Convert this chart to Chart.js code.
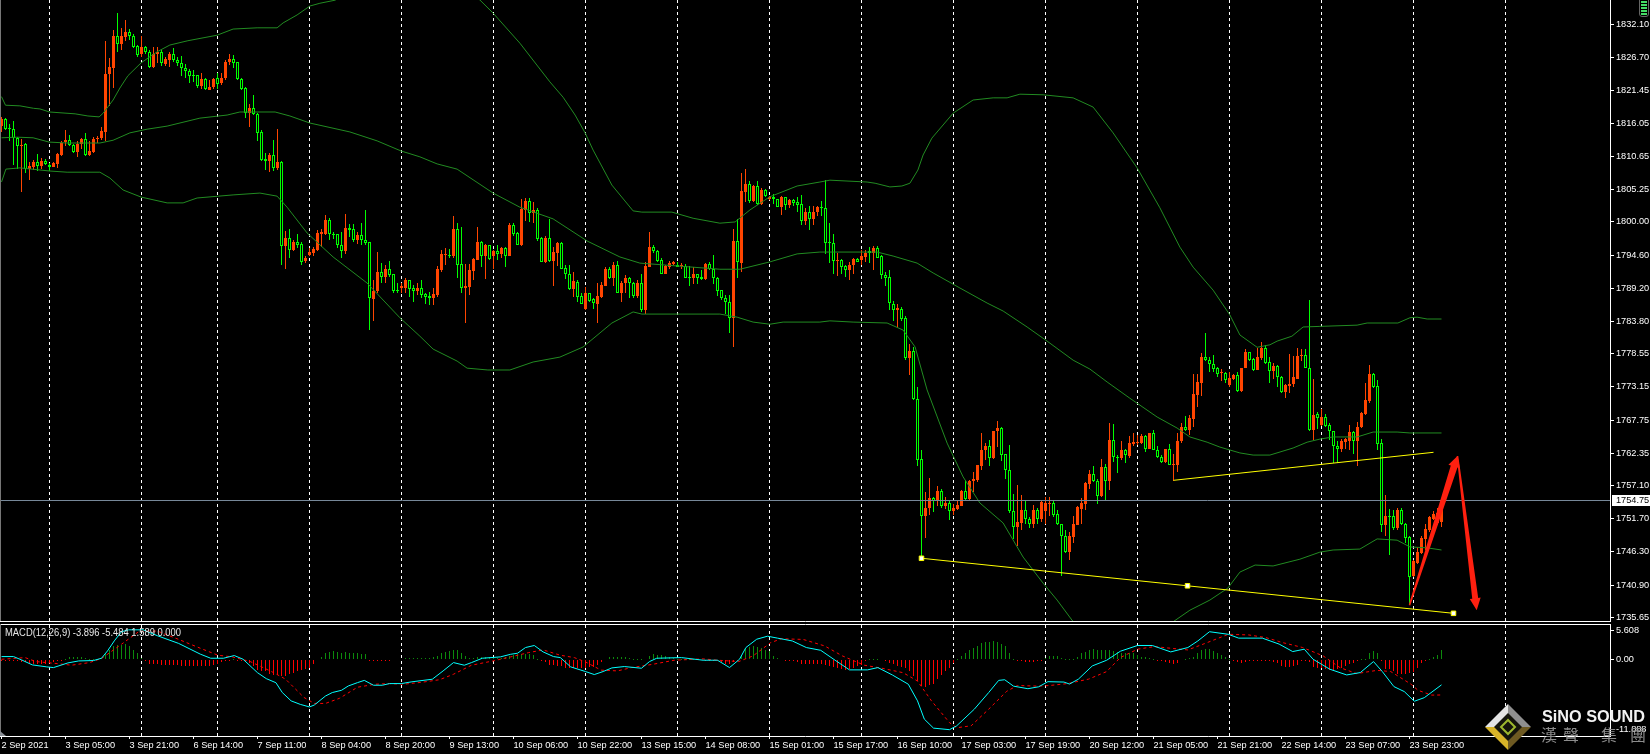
<!DOCTYPE html>
<html>
<head>
<meta charset="utf-8">
<title>XAUUSD H1</title>
<style>
  html, body { margin: 0; background: #000; overflow: hidden; }
  canvas { position: absolute; left: 0; }
  #precos { top: 0; }
  #macd { top: 622px; }
</style>
<script src="https://cdn.jsdelivr.net/npm/chart.js@4/dist/chart.umd.min.js"></script>
</head>
<body>
<canvas id="precos" width="1650" height="622"></canvas>
<canvas id="macd" width="1650" height="132"></canvas>
<script>
var opens = [
1815.6,1816.7,1815.3,1815.2,1813.7,1812.3,1812.7,1808.6,1809.0,1809.7,
1809.1,1809.9,1809.3,1809.0,1809.5,1810.9,1813.0,1813.3,1812.5,1811.4,
1812.7,1813.5,1810.9,1811.4,1813.5,1813.6,1814.7,1824.1,1825.1,1830.3,
1829.0,1830.1,1831.0,1830.3,1828.6,1827.3,1828.4,1827.7,1825.2,1827.3,
1827.6,1825.7,1826.4,1827.3,1826.4,1825.8,1825.1,1824.6,1823.9,1823.9,
1822.1,1823.2,1821.5,1821.9,1823.5,1822.6,1823.4,1826.0,1826.5,1826.0,
1823.2,1821.8,1817.8,1818.6,1817.6,1814.6,1810.2,1809.9,1810.9,1808.8,
1809.8,1796.1,1797.4,1795.4,1796.7,1796.4,1793.6,1794.6,1794.9,1795.4,
1798.0,1798.1,1800.3,1798.1,1798.0,1796.3,1795.3,1799.0,1798.9,1797.0,
1797.9,1797.0,1796.7,1787.5,1788.8,1791.9,1791.0,1792.3,1791.5,1789.0,
1789.2,1789.3,1790.5,1789.2,1788.8,1789.2,1788.3,1788.0,1787.6,1788.1,
1792.2,1794.6,1794.7,1794.5,1798.9,1793.1,1789.3,1789.4,1792.0,1793.8,
1796.7,1794.5,1796.2,1794.4,1795.3,1794.8,1795.8,1794.5,1799.5,1798.2,
1796.2,1802.0,1803.4,1801.5,1802.0,1797.4,1793.5,1797.4,1793.7,1795.0,
1796.6,1792.5,1791.6,1789.1,1790.3,1787.9,1785.8,1788.4,1787.5,1786.7,
1787.8,1789.6,1792.3,1790.9,1793.0,1788.5,1790.0,1790.9,1790.1,1787.9,
1790.1,1785.7,1792.7,1795.9,1795.3,1793.8,1791.6,1792.7,1793.2,1793.0,
1792.8,1792.9,1791.0,1790.9,1791.5,1791.0,1790.7,1793.1,1792.4,1790.8,
1788.9,1787.7,1786.9,1784.3,1796.9,1793.3,1804.9,1806.1,1803.4,1805.9,
1802.9,1805.2,1803.8,1804.1,1803.7,1802.4,1804.0,1802.8,1803.5,1803.2,
1802.9,1800.2,1801.6,1800.5,1801.6,1802.4,1802.2,1796.7,1796.5,1793.7,
1793.8,1792.8,1792.2,1793.0,1794.0,1793.8,1794.3,1795.2,1795.0,1795.8,
1794.5,1791.3,1791.0,1786.7,1785.7,1785.9,1784.3,1777.8,1779.0,1771.1,
1761.4,1752.2,1753.5,1755.0,1754.5,1756.2,1753.8,1754.2,1753.0,1753.3,
1753.8,1756.2,1754.9,1757.9,1758.0,1760.3,1762.8,1763.5,1761.6,1765.9,
1766.4,1762.2,1759.7,1753.0,1750.3,1751.0,1753.1,1751.7,1750.8,1753.1,
1751.6,1752.9,1754.2,1754.2,1752.4,1750.8,1748.8,1746.3,1748.7,1750.7,
1753.3,1754.1,1757.3,1758.9,1757.9,1755.4,1760.1,1757.8,1764.5,1761.8,
1761.6,1762.9,1761.9,1763.9,1764.0,1764.0,1765.2,1763.0,1765.6,1762.9,
1761.8,1760.9,1763.0,1760.5,1760.4,1764.3,1766.6,1766.1,1767.9,1771.8,
1773.8,1778.0,1777.6,1776.8,1776.2,1775.4,1775.4,1773.5,1774.4,1775.1,
1772.5,1776.2,1778.8,1777.7,1775.9,1777.9,1779.5,1777.2,1775.7,1776.5,
1774.8,1772.3,1773.3,1773.6,1774.5,1778.1,1778.3,1776.3,1766.1,1768.7,
1767.0,1768.2,1766.9,1765.9,1763.6,1763.1,1764.2,1764.4,1765.8,1764.4,
1766.6,1768.7,1770.9,1775.3,1773.3,1764.0,1750.6,1752.2,1752.1,1750.1,
1753.1,1750.9,1748.7,1742.4,1744.5,1746.1,1748.4,1749.9,1751.7,1751.0,1751.2
];
var highs = [
1817.1,1817.0,1816.0,1816.4,1813.9,1813.5,1812.8,1809.7,1810.1,1811.1,
1810.4,1810.3,1809.6,1809.7,1811.2,1813.2,1815.0,1814.2,1812.7,1813.1,
1813.7,1814.4,1813.1,1813.8,1814.0,1815.5,1829.5,1826.7,1831.2,1834.0,
1831.5,1832.9,1831.4,1830.6,1828.8,1830.3,1828.7,1828.0,1828.4,1828.4,
1828.0,1826.9,1827.7,1828.3,1826.9,1827.0,1825.7,1824.9,1824.7,1823.9,
1824.3,1823.4,1823.1,1823.4,1824.3,1824.2,1826.4,1827.3,1827.2,1826.1,
1823.4,1821.9,1819.2,1820.7,1817.8,1815.0,1811.2,1811.3,1813.3,1815.1,
1809.9,1798.5,1798.8,1797.1,1798.1,1796.8,1794.5,1795.7,1795.9,1798.7,
1798.9,1801.1,1800.6,1798.4,1798.1,1798.4,1801.3,1799.7,1799.7,1798.4,
1799.8,1802.0,1796.8,1790.5,1795.1,1793.3,1793.0,1793.7,1791.6,1790.0,
1790.0,1790.9,1790.6,1789.7,1790.0,1790.6,1788.5,1788.6,1789.3,1792.8,
1795.4,1795.7,1795.6,1801.0,1799.9,1799.1,1793.2,1793.2,1794.1,1799.1,
1796.9,1796.4,1796.3,1795.4,1796.2,1796.0,1796.0,1799.8,1799.9,1798.4,
1803.8,1803.9,1803.9,1803.3,1802.2,1797.5,1797.7,1800.4,1796.0,1796.7,
1796.7,1793.0,1793.0,1791.9,1790.5,1788.5,1789.4,1788.5,1787.7,1790.0,
1790.3,1792.6,1792.6,1793.4,1793.6,1790.4,1791.4,1791.1,1790.3,1790.6,
1791.6,1793.4,1798.4,1796.2,1795.5,1794.1,1793.0,1793.7,1793.6,1793.5,
1793.3,1793.1,1792.8,1792.7,1791.6,1792.1,1793.3,1793.4,1794.7,1791.0,
1789.0,1788.1,1788.1,1798.9,1800.4,1808.0,1808.6,1806.6,1806.0,1806.7,
1805.5,1805.3,1804.3,1804.5,1803.8,1804.2,1804.1,1803.8,1803.8,1804.1,
1804.4,1802.2,1802.6,1802.6,1802.6,1803.4,1806.8,1799.9,1798.0,1794.9,
1793.9,1793.0,1793.5,1794.1,1794.2,1795.4,1795.5,1795.9,1796.1,1796.1,
1794.6,1791.9,1792.2,1787.1,1786.7,1786.1,1784.7,1780.2,1779.7,1773.1,
1762.9,1756.1,1758.3,1755.3,1757.0,1756.6,1755.3,1754.5,1754.1,1754.6,
1756.4,1758.0,1758.0,1759.3,1760.4,1765.6,1764.0,1764.5,1766.0,1767.6,
1766.6,1762.3,1763.7,1755.7,1757.2,1755.5,1754.6,1752.0,1753.9,1753.4,
1754.5,1755.3,1755.2,1754.8,1753.1,1750.9,1749.9,1749.6,1752.1,1753.8,
1755.0,1757.6,1759.6,1760.3,1758.1,1761.4,1760.6,1767.2,1767.1,1762.1,
1764.3,1763.1,1765.1,1765.6,1765.3,1765.4,1765.3,1765.7,1766.2,1763.5,
1762.1,1763.1,1763.9,1762.3,1765.6,1767.2,1768.4,1768.6,1775.2,1775.2,
1778.6,1781.9,1778.0,1778.3,1776.4,1776.0,1775.5,1775.5,1775.2,1775.6,
1776.3,1779.3,1778.9,1777.8,1779.4,1780.4,1780.0,1778.0,1777.0,1776.7,
1774.9,1773.7,1778.5,1778.1,1779.4,1779.3,1779.3,1787.3,1774.5,1769.0,
1769.5,1768.7,1767.2,1766.0,1764.4,1764.6,1764.9,1767.0,1766.0,1767.4,
1769.1,1773.8,1776.7,1775.4,1774.3,1764.6,1755.6,1753.2,1753.1,1753.4,
1753.4,1751.0,1748.9,1745.0,1747.1,1748.8,1750.8,1752.1,1753.0,1753.4,1753.4
];
var lows = [
1814.7,1815.0,1813.1,1809.3,1808.7,1804.8,1807.9,1806.8,1808.5,1808.3,
1808.7,1809.3,1808.3,1808.9,1808.8,1810.7,1812.4,1812.3,1811.2,1810.5,
1811.8,1810.8,1810.8,1811.2,1812.8,1813.3,1813.1,1818.8,1821.8,1827.6,
1828.0,1829.5,1829.6,1828.3,1826.8,1826.9,1827.4,1825.1,1825.0,1825.8,
1825.4,1825.4,1825.3,1826.0,1825.4,1823.8,1823.5,1822.6,1822.8,1821.8,
1821.6,1821.4,1821.4,1821.7,1821.7,1822.3,1823.1,1825.5,1825.0,1823.1,
1821.4,1816.9,1815.5,1817.4,1813.1,1810.0,1808.5,1808.2,1808.3,1808.5,
1793.0,1792.3,1794.1,1795.2,1795.7,1793.0,1793.3,1794.5,1794.5,1795.3,
1795.9,1797.9,1797.0,1797.2,1795.7,1794.1,1794.8,1797.5,1796.8,1796.4,
1796.2,1796.2,1782.4,1783.8,1788.4,1790.0,1790.0,1791.1,1788.4,1788.5,
1788.4,1788.5,1787.8,1786.9,1788.1,1787.6,1786.6,1786.5,1786.5,1787.8,
1791.9,1793.0,1794.2,1794.2,1790.8,1788.5,1783.6,1788.1,1790.6,1793.8,
1792.7,1790.7,1793.8,1792.3,1793.8,1794.1,1792.6,1794.5,1797.7,1796.2,
1796.1,1800.2,1800.0,1799.9,1796.9,1793.4,1793.3,1793.5,1789.5,1792.8,
1792.3,1790.7,1788.9,1787.8,1787.0,1786.6,1785.7,1786.9,1785.8,1783.6,
1787.7,1789.5,1790.7,1789.5,1788.4,1786.9,1788.4,1787.6,1787.6,1787.7,
1785.4,1785.0,1792.6,1795.0,1793.5,1791.5,1791.5,1792.4,1793.0,1792.6,
1792.3,1790.8,1789.6,1789.9,1789.9,1790.6,1790.6,1792.2,1789.9,1788.0,
1787.3,1785.0,1782.0,1779.7,1790.8,1791.9,1803.3,1803.1,1803.3,1802.8,
1802.8,1804.1,1803.5,1802.9,1802.4,1801.1,1802.0,1802.3,1802.6,1801.7,
1799.5,1799.5,1798.7,1799.5,1801.0,1801.0,1794.8,1793.3,1791.5,1791.2,
1791.5,1791.1,1790.5,1791.6,1793.4,1793.0,1793.5,1793.3,1792.2,1794.1,
1790.7,1789.5,1785.7,1783.9,1782.7,1783.9,1777.6,1775.1,1771.0,1760.2,
1745.2,1748.6,1752.3,1752.8,1753.7,1753.4,1753.2,1751.4,1752.3,1753.1,
1753.7,1754.7,1754.5,1756.1,1757.7,1759.6,1761.2,1760.2,1761.4,1763.4,
1761.1,1758.2,1752.6,1748.4,1747.2,1749.9,1750.8,1750.1,1750.1,1750.9,
1751.2,1750.9,1752.1,1752.0,1750.7,1742.3,1746.1,1745.0,1747.8,1750.7,
1750.8,1753.1,1756.5,1757.7,1754.1,1755.3,1754.5,1756.4,1760.9,1759.2,
1761.2,1760.7,1761.5,1763.6,1763.7,1763.9,1762.6,1763.0,1762.9,1761.5,
1760.8,1760.8,1760.4,1757.9,1759.3,1764.0,1766.0,1765.3,1766.7,1769.8,
1771.7,1777.4,1775.5,1775.6,1774.7,1774.1,1773.8,1773.2,1774.3,1772.3,
1772.3,1776.2,1777.3,1775.8,1775.9,1777.5,1776.9,1773.8,1774.5,1773.2,
1772.1,1771.4,1772.1,1773.2,1774.4,1777.4,1776.2,1766.0,1764.5,1766.3,
1766.8,1766.7,1764.5,1760.8,1760.8,1762.6,1763.1,1762.9,1762.2,1760.3,
1766.4,1768.6,1770.6,1773.0,1762.8,1749.6,1748.8,1745.8,1749.9,1749.9,
1750.7,1747.7,1737.6,1742.2,1744.4,1746.0,1746.6,1749.6,1751.4,1750.7,1750.3
];
var closes = [
1816.7,1815.1,1815.2,1813.6,1812.3,1812.5,1808.6,1809.1,1809.8,1809.1,
1809.9,1809.5,1809.0,1809.6,1811.1,1812.9,1813.3,1812.5,1811.4,1812.7,
1813.5,1810.9,1811.5,1813.5,1813.7,1814.8,1824.1,1825.2,1830.3,1829.0,
1830.2,1831.0,1830.2,1828.5,1827.1,1828.5,1827.7,1825.3,1827.4,1827.7,
1825.8,1826.5,1827.3,1826.4,1825.8,1825.1,1824.5,1823.8,1823.8,1822.1,
1823.2,1821.6,1821.9,1823.2,1822.5,1823.5,1826.0,1826.5,1825.9,1823.2,
1821.6,1817.8,1818.6,1817.5,1814.5,1810.1,1810.0,1810.9,1808.8,1809.8,
1796.1,1797.4,1795.4,1796.8,1796.2,1793.5,1794.2,1795.1,1795.6,1798.2,
1798.4,1800.3,1798.1,1797.9,1796.2,1795.3,1799.0,1798.7,1797.0,1797.9,
1797.0,1796.6,1787.7,1788.8,1791.9,1791.0,1792.3,1791.4,1788.8,1788.8,
1789.6,1790.5,1789.1,1788.8,1789.2,1788.1,1787.8,1787.7,1788.3,1792.3,
1794.8,1794.8,1794.5,1798.9,1793.0,1789.3,1789.6,1792.2,1794.0,1796.7,
1794.5,1796.2,1794.0,1795.3,1794.8,1795.8,1794.5,1799.5,1798.0,1796.2,
1802.1,1803.4,1801.5,1802.0,1797.2,1793.5,1797.4,1793.7,1795.1,1796.6,
1792.4,1791.6,1789.1,1790.4,1787.8,1786.7,1788.4,1787.1,1786.8,1787.9,
1789.8,1792.3,1790.9,1793.0,1788.5,1790.1,1790.9,1790.0,1788.0,1790.1,
1785.7,1792.8,1795.9,1795.2,1793.7,1791.6,1792.8,1793.3,1793.5,1792.7,
1793.0,1790.9,1790.9,1791.5,1790.9,1790.7,1793.2,1792.4,1790.8,1788.8,
1787.7,1786.9,1784.3,1796.9,1793.4,1805.0,1806.1,1803.4,1805.9,1802.9,
1805.2,1804.3,1804.0,1803.7,1802.5,1804.0,1802.8,1803.6,1803.1,1802.8,
1800.2,1801.6,1800.5,1801.7,1802.4,1802.2,1796.6,1796.5,1793.7,1793.8,
1792.7,1792.2,1793.0,1794.0,1793.5,1794.5,1795.0,1794.9,1795.8,1794.2,
1791.3,1790.9,1786.8,1785.7,1786.0,1784.2,1777.9,1779.0,1771.1,1761.3,
1752.2,1753.5,1755.0,1754.5,1756.2,1753.8,1754.2,1753.0,1753.4,1753.9,
1756.2,1754.9,1757.9,1758.2,1760.4,1762.9,1763.5,1761.6,1766.0,1766.5,
1762.1,1759.7,1753.0,1750.4,1751.2,1753.1,1751.7,1750.9,1753.1,1751.7,
1754.4,1754.2,1754.3,1752.3,1750.9,1748.8,1746.3,1748.9,1750.8,1753.6,
1754.2,1757.5,1759.0,1757.8,1755.4,1760.1,1757.8,1764.5,1761.8,1761.6,
1762.9,1762.1,1764.0,1764.1,1764.1,1765.2,1763.0,1765.6,1762.9,1761.8,
1760.9,1763.0,1760.5,1760.6,1764.4,1766.6,1766.1,1768.1,1772.0,1773.9,
1778.0,1777.5,1776.8,1776.1,1775.2,1775.5,1774.3,1774.6,1775.1,1772.5,
1776.3,1778.8,1777.6,1775.9,1778.0,1779.5,1777.0,1775.7,1776.6,1774.8,
1772.3,1773.4,1773.7,1774.7,1778.2,1778.3,1776.3,1766.1,1768.6,1768.1,
1768.3,1766.8,1765.9,1763.6,1763.1,1764.3,1764.7,1765.8,1764.4,1766.7,
1768.9,1771.0,1775.3,1773.2,1763.9,1750.6,1752.2,1752.0,1750.1,1753.1,
1750.8,1748.6,1742.2,1744.8,1746.2,1748.6,1750.0,1751.9,1752.5,1752.6,1753.1
];

// Bollinger: lidas em alguns candles, a linha liga os pontos
var upperBars = [0,1,4.6,8,9.6,12,18.4,21.6,24.4,25.4,27.9,29.6,31.6,34.9,38.9,42.1,46.6,53.9,57.9,63.9,68.9,70.4,73.9,77.1,79.6,83.4,94.6,107.1,119.6,122.9,129.6,137.1,140.4,143.4,145.9,147.9,152.6,157.9,160.1,167.6,172.9,179.6,183.4,187.1,192.1,198.9,204.6,207.1,216.4,218.4,222.1,225.1,227.1,229.1,230.4,232.6,237.9,242.9,247.9,251.4,254.6,260.4,267.9,272.9,277.9,283.9,289.6,294.6,297.9,302.9,307.1,309.6,313.9,317.1,318.9,322.6,325.4,329.6,338.9,341.4,349.1,352.1,353.9,356.4,360];
var upperVals = [1820.4,1819.0,1818.9,1818.5,1818.4,1817.9,1817.6,1817.25,1817.1,1817.7,1819.85,1821.8,1823.8,1825.9,1827.7,1828.8,1829.5,1830.4,1831.4,1831.6,1831.6,1832.4,1833.7,1835.15,1835.6,1836.1,1841,1841,1836.13,1834,1829.1,1822.8,1820.3,1817.4,1814.5,1811.7,1806,1801.8,1801.6,1801.6,1800.6,1799.8,1800,1801.95,1804.1,1805.85,1806.5,1806.8,1806.5,1806.3,1805.7,1805.85,1806.3,1808.45,1810.9,1813.65,1817.7,1819.85,1820.2,1820.2,1820.8,1820.7,1820.2,1818.7,1814.5,1808.8,1802.3,1795.9,1792.65,1788.9,1784.85,1781.6,1779.6,1780,1780.6,1781.4,1782.9,1783,1783.2,1783.55,1783.55,1784.4,1784.5,1784.2,1784.2];
var middleBars = [0,3.9,7.9,11.9,16.4,24.6,27.9,32.1,36.4,41.4,49.6,56.4,59.6,68.4,72.1,77.1,87.1,93.9,99.9,104.6,108.9,113.9,122.9,129.6,137.9,146.4,154.6,159.6,169.6,179.6,184.6,192.1,198.9,204.6,218.9,222.9,228.9,232.9,239.6,246.4,250.4,256.4,261.4,267.9,272.1,276.4,282.1,288.9,293.9,297.1,301.4,304.6,309.6,312.9,317.1,322.9,326.4,329.6,332.9,338.9,342.9,348.9,352.1,360];
var middleVals = [1813.7,1813.8,1813.7,1813,1812.85,1812.85,1813.3,1814.5,1815.1,1815.6,1816.9,1817.4,1817.9,1817.9,1817.25,1816.1,1814.65,1813.2,1811.55,1810.6,1809.45,1808.6,1804.7,1802.4,1800.5,1796.9,1794.3,1793.3,1792.8,1792.3,1792.3,1793.5,1794.8,1795.1,1795.1,1794.45,1793.3,1791.7,1789.25,1786.8,1785.5,1782.9,1780.6,1777.5,1776.05,1773.95,1771.3,1768.25,1766.45,1765,1764.15,1763.35,1762.4,1762.05,1762.05,1763.2,1764.15,1764.65,1765,1765,1765.8,1765.8,1765.65,1765.65];
var lowerBars = [0,1.1,4.6,11.9,16.4,24.6,27.1,30.4,34.9,41.4,45.4,48.9,57.9,64.6,68.9,71.4,76.4,82.9,91.4,99.6,104.6,107.9,113.9,116.4,121.6,127.1,132.9,139.6,145.4,152.6,157.9,160.1,179.6,183.9,187.9,192.1,195.4,204.6,207.1,212.9,221.4,225.4,228.4,231.4,236.4,240.4,244.6,250.4,255.4,260.4,263.9,267.6,274.6,287.1,293.1,297.1,302.1,306.6,309.6,313.4,317.9,324.6,329.6,332.9,339.6,343.9,348.9,352.1,356.4,360];
var lowerVals = [1806.5,1808.6,1808.8,1808.3,1808.1,1808.1,1807.15,1805.2,1804.05,1803.1,1803.1,1803.9,1804.4,1804.7,1804.2,1802.4,1798.2,1794.3,1790.05,1784.4,1781.4,1779.3,1777.35,1776.2,1775.9,1775.9,1777.2,1778,1779.65,1783.55,1785.35,1785,1785,1784.5,1783.7,1783.35,1783.7,1783.7,1783.9,1783.7,1783.55,1782.4,1779.65,1772.65,1764,1758.5,1754.25,1751,1745.45,1741.2,1738.45,1735.2,1730.3,1731.95,1735,1736.8,1738.45,1740.4,1743,1744.15,1744,1745.1,1746.25,1746.6,1746.75,1748.4,1748.2,1747.1,1746.95,1746.6];

var macdHist = [
-0.1,-0.1,-0.1,-0.1,-0.2,-0.3,-0.4,-0.5,-0.6,-0.6,
-0.6,-0.6,-0.5,-0.4,-0.2,-0.1,0.2,0.4,0.4,0.4,
0.4,0.3,0.2,0.2,0.2,0.3,0.9,1.6,2.2,2.4,
2.3,2.5,2.2,1.6,1.0,0.3,-0.1,-0.6,-0.7,-0.7,
-0.8,-0.8,-0.8,-0.8,-0.8,-0.9,-0.9,-0.9,-0.9,-0.9,
-0.9,-0.9,-0.9,-0.8,-0.7,-0.4,-0.2,-0.1,0.1,-0.1,
-0.2,-0.3,-0.5,-1,-1.5,-1.7,-1.8,-2.2,-2.3,-2.4,
-2.5,-2.5,-2.2,-2,-1.8,-1.6,-1.4,-1.2,-0.6,0,
0.5,1,1.2,1.35,1.25,1.15,1.2,1.15,1.1,1,
0.95,0.9,-0.1,-0.1,-0.1,-0.1,-0.1,-0.1,0,0,
0,0.25,0.25,0.25,0.25,0.25,0.3,0.3,0.4,0.6,
1,1.25,1.4,1.6,1.5,1,0.6,0.35,0.3,0.4,
0.5,0.5,0.4,0.4,0.35,0.3,0.4,0.6,0.8,0.85,
0.9,0.95,0.9,0.8,0.1,-0.15,-0.3,-0.8,-0.85,-0.9,
-1,-1.2,-1.2,-1.3,-1.3,-1.3,-1.3,-1.1,-1.1,-0.8,
-0.4,0,0.5,0.5,0.45,0.4,0.4,0.35,0.05,0.05,
0.05,0,0.6,0.9,0.8,0.8,0.6,0.45,0.25,0.1,
0.05,0.05,0.05,0.05,0,0,-0.05,-0.05,-0.1,-0.15,
-0.3,-0.6,-0.7,-0.4,-0.25,0.6,1.7,2,2.2,2,
1.9,1.6,1.4,0.6,0.25,0,-0.05,-0.15,-0.25,-0.35,
-0.6,-0.7,-0.7,-0.7,-0.6,-0.7,-0.8,-0.95,-1.1,-1.3,
-1.45,-1.6,-1.45,-1.2,-1,-0.8,-0.1,0.05,0.05,0.05,
0,-0.2,-0.45,-0.65,-0.9,-1.05,-1.3,-1.8,-2.5,-3.3,
-4,-4.2,-3.95,-3.7,-3,-2.3,-1.8,-1.2,-0.45,0.1,
0.6,1.15,1.5,1.9,2.2,2.7,2.85,2.85,2.9,2.85,
2.55,2.2,1.15,0.1,-0.1,-0.25,-0.4,-0.4,-0.4,-0.25,
-0.05,0.35,0.55,0.55,0.55,0.35,0.05,0.05,0.15,0.45,
1,1.25,1.5,1.65,1.6,1.6,1.6,1.55,1.4,1.3,
1.15,1,1,1,0.7,0.5,0.45,0.35,0.1,-0.05,
-0.15,-0.3,-0.55,-0.7,-0.45,0,0.1,0.25,0.5,1,
1.55,1.65,1.65,1.4,1.15,0.8,0.45,0.1,-0.25,-0.4,
-0.45,-0.4,-0.25,-0.25,-0.15,-0.15,-0.25,-0.25,-0.4,-0.55,
-0.95,-1.05,-1.05,-1,-0.85,-0.05,-0.05,-0.4,-1.1,-1.2,
-1.2,-1.45,-1.6,-1.6,-1.45,-1.2,-0.95,-0.7,-0.45,-0.2,
0.05,0.15,1.15,1.35,1,-0.05,-1.35,-1.45,-1.7,-2.15,
-2.15,-2.15,-2,-1.85,-1.2,-0.55,-0.25,0.1,0.45,0.8,1.55
];
var macdMainBars = [0,3,5,7.7,11.3,13,16.6,19.3,23,25,26.5,28.2,30,31.8,35.4,39,44.3,49.7,52.3,55.5,58.2,60.4,64,66.2,68.6,70.2,72.4,74.7,77,78.2,81,82.7,85,86.7,89,90.7,93,95.2,97,100,102.4,107.7,110.4,113,115.7,117.5,120.2,124.7,127.3,129,131,133.2,135.4,138,139.7,142.3,146,148.2,150.4,152.6,155.7,160,162,163.8,170,175.4,179,182,184.5,186.1,188.8,191.5,194,197.7,201.2,204.8,208.4,212,216.5,219.1,222.7,226.7,229,230.7,233,237,238.8,243.2,246.8,249.3,250.8,253,256.6,259.3,261.6,265.6,267,269.2,272.7,276.3,279.7,284,287.7,292.3,296.6,299.1,302,306.7,309.3,315.2,319.4,322.8,325.7,327.9,332.1,336.3,339.7,343,345.2,348.1,350.7,353.2,355.7,360];
var macdMainVals = [0.52,0.52,0,-0.78,-1.09,-1.2,-0.47,-0.16,-0.1,0.26,1.4,2.97,4.4,4.7,4.7,3.77,2.57,0.9,0.26,0.26,0.68,0.1,-2,-2.93,-3.56,-5.1,-6.4,-6.95,-7.35,-7.05,-5.64,-5.1,-4.75,-4.07,-3.55,-3.2,-3.96,-3.96,-3.7,-3.7,-3.44,-3.02,-1.72,-0.42,-0.83,-0.42,0.26,0.47,0.88,1.04,1.93,2.25,1.25,0.52,0.36,-1.09,-1.82,-2.29,-1.82,-1.25,-1.04,-1.3,-0.26,0.26,0.36,-0.05,-0.05,-1.2,0.1,1.93,3.23,3.7,3.4,2.96,1.93,1.5,-0.05,-1.56,-1.56,-1.2,-2.35,-3.8,-6.4,-9.25,-10.66,-10.9,-10.3,-7.7,-5.1,-3.2,-3.1,-4.1,-4.5,-4.2,-3.4,-3.46,-3.77,-3.02,-0.94,-0.05,1.35,2.25,2.25,1.25,1.93,2.97,4.4,4,3.4,3.4,2.47,1.3,1.67,0.1,-1.46,-2.35,-1.98,-0.26,-1.82,-4.17,-4.95,-6.46,-5.9,-3.9];
var macdSignalBars = [0,5.9,8.6,13,17.5,22,25.1,30,34.5,39,44.3,49.7,54.1,57.7,62.2,67.5,71,75.6,78.2,81,84.5,89,93.4,97,100.5,105,109.5,113,117.5,122.9,127.3,131.8,135.4,139.7,143.2,146,149.9,154,157.5,162.9,168.2,175.4,179,184.3,187.9,192.3,195,200.4,205.8,210.2,215.7,220.1,225.4,229,232.5,237,238.8,242.4,246.8,251.3,254,259.3,262,266.5,271.8,276.3,279.7,284,288.2,292.3,296.6,300.8,306.7,311.8,316,320.3,325.3,330.4,334.6,338.8,343.9,347.3,352.4,354.1,357.5,360];
var macdSignalVals = [0.1,0.36,-0.26,-0.52,-0.83,-0.42,0.26,2.45,4.5,4.5,3.2,1.82,0.73,0.47,-0.26,-1.82,-3,-5.86,-6.8,-6.8,-6,-4.27,-3.8,-3.7,-3.8,-3.5,-3.1,-2.24,-0.83,-0.16,0.47,1.14,1.56,0.73,0.36,-0.32,-1.6,-1.72,-1.2,-0.68,-0.05,0.16,-0.05,-0.26,0.63,2.7,3.3,3.2,2.18,0.63,-0.83,-1.3,-2,-3.3,-6.4,-9.8,-10.6,-10.3,-7.7,-4.9,-4,-4.1,-4,-3.7,-3,-1.82,0.36,1.67,2.08,1.82,1.56,2.55,4,3.9,3.5,2.7,1.93,0.63,-1.2,-2.14,-1.63,-1.82,-3.8,-4.74,-5.5,-5.48];

var priceTicks = [1832.10,1826.70,1821.45,1816.05,1810.65,1805.25,1800.00,1794.60,1789.20,1783.80,1778.55,1773.15,1767.75,1762.35,1757.10,1751.70,1746.30,1740.90,1735.65];
var bidPrice = 1754.75;
var macdTickAt = [4.55, 0, -10.9];
var macdTickText = ['5.608', '0.00', '-11.888'];
var timeLabels = ['2 Sep 2021','3 Sep 05:00','3 Sep 21:00','6 Sep 14:00','7 Sep 11:00','8 Sep 04:00','8 Sep 20:00','9 Sep 13:00','10 Sep 06:00','10 Sep 22:00','13 Sep 15:00','14 Sep 08:00','15 Sep 01:00','15 Sep 17:00','16 Sep 10:00','17 Sep 03:00','17 Sep 19:00','20 Sep 12:00','21 Sep 05:00','21 Sep 21:00','22 Sep 14:00','23 Sep 07:00','23 Sep 23:00'];
var labelBars = [0,16,32,48,64,80,96,112,128,144,160,176,192,208,224,240,256,272,288,304,320,336,352];
var dayBars = [12,35,54,77,100,123,146,169,192,215,238,261,284,307,330,353,376];

// linhas de tendencia e setas desenhadas no grafico: [candle, preco]
var supportLine = [[230,1745.25],[296.5,1740.77],[363,1736.29]];
var resistLine = [[293,1757.94],[358,1762.5]];
var arrowUp = [[352,1737.6],[364,1761.9]];
var arrowDown = [[364,1761.9],[368.8,1736.8]];

var FONTE = '"Liberation Sans"';
var TAM_FONTE = 9.2;
var LARANJA = '#FF4500', VERDE = '#00FF00', BANDA = '#228B22', AMARELO = '#FFFF00';
var xMin = -0.375, xMax = 402.125;

Chart.defaults.font.family = FONTE;
Chart.defaults.font.size = TAM_FONTE;
Chart.defaults.color = '#fff';
Chart.defaults.animation = false;

function pares(xs, ys) {
  return xs.map(function (x, i) { return { x: x, y: ys[i] }; });
}

function linha(dados, cor, extra) {
  return Object.assign({
    type: 'line', data: dados, borderColor: cor, borderWidth: 1,
    pointRadius: 0, tension: 0, order: 3, fill: false
  }, extra || {});
}

// sem isto o eixo reserva meia altura de texto em cima e embaixo
function semPadding(s) {
  s.paddingTop = 0; s.paddingBottom = 0; s.paddingLeft = 0; s.paddingRight = 0;
}

// candles e histograma em pixel inteiro, como no terminal
var pixelInteiro = {
  id: 'pixelInteiro',
  afterDatasetsUpdate: function (chart) {
    chart.getSortedVisibleDatasetMetas().forEach(function (meta) {
      if (meta.type !== 'bar') return;
      meta.data.forEach(function (el) {
        var tinha = el.y !== el.base;
        var a = Math.round(el.y), b = Math.round(el.base);
        if (a === b && tinha) b = a + 1;
        el.y = a; el.base = b;
      });
    });
  }
};

function seta(ctx, x, y, pa, pb, cauda, largura, cabecaLen, cabecaLarg) {
  var ax = x.getPixelForValue(pa[0]), ay = y.getPixelForValue(pa[1]);
  var bx = x.getPixelForValue(pb[0]), by = y.getPixelForValue(pb[1]);
  var d = Math.hypot(bx - ax, by - ay), ux = (bx - ax) / d, uy = (by - ay) / d;
  var sx = bx - ux * cabecaLen, sy = by - uy * cabecaLen, nx = -uy, ny = ux;
  ctx.beginPath();
  ctx.moveTo(ax + nx * cauda / 2, ay + ny * cauda / 2);
  ctx.lineTo(sx + nx * largura / 2, sy + ny * largura / 2);
  ctx.lineTo(sx + nx * cabecaLarg / 2, sy + ny * cabecaLarg / 2);
  ctx.lineTo(bx, by);
  ctx.lineTo(sx - nx * cabecaLarg / 2, sy - ny * cabecaLarg / 2);
  ctx.lineTo(sx - nx * largura / 2, sy - ny * largura / 2);
  ctx.lineTo(ax - nx * cauda / 2, ay - ny * cauda / 2);
  ctx.closePath();
  ctx.fill();
}

var extrasPreco = {
  id: 'extrasPreco',
  afterDatasetsDraw: function (chart) {
    var ctx = chart.ctx, y = chart.scales.y, x = chart.scales.x;
    var py = Math.round(y.getPixelForValue(bidPrice)) + 0.5;
    ctx.save();
    ctx.strokeStyle = '#778899';
    ctx.lineWidth = 1;
    ctx.beginPath(); ctx.moveTo(0, py); ctx.lineTo(chart.chartArea.right, py); ctx.stroke();
    ctx.fillStyle = '#FF2010';
    seta(ctx, x, y, arrowUp[0], arrowUp[1], 1.6, 7, 11, 12);
    seta(ctx, x, y, arrowDown[0], arrowDown[1], 1.6, 6, 12, 11);
    ctx.restore();
  },
  afterDraw: function (chart) {
    var ctx = chart.ctx, y = chart.scales.y;
    var py = Math.round(y.getPixelForValue(bidPrice));
    ctx.save();
    ctx.fillStyle = '#fff';
    ctx.fillRect(1612, py - 5, 38, 11);
    ctx.fillStyle = '#000';
    ctx.font = TAM_FONTE + 'px ' + FONTE;
    ctx.textBaseline = 'middle';
    ctx.fillText(bidPrice.toFixed(2), 1616, py + 0.5);
    // borda esquerda e icone do canto
    ctx.fillStyle = '#777';
    ctx.fillRect(0, 0, 1, 621);
    ctx.strokeStyle = '#666';
    ctx.beginPath();
    ctx.moveTo(1639.5, 0); ctx.lineTo(1639.5, 14); ctx.quadraticCurveTo(1639.5, 16.5, 1642, 16.5);
    ctx.lineTo(1646, 16.5); ctx.quadraticCurveTo(1648.5, 16.5, 1648.5, 14); ctx.lineTo(1648.5, 0);
    ctx.stroke();
    ctx.fillStyle = '#44DD66';
    for (var i = 0; i < 5; i++) ctx.fillRect(1641, 1 + i * 3, 6, 2);
    ctx.restore();
  }
};

var extrasMacd = {
  id: 'extrasMacd',
  afterDatasetsDraw: function (chart) {
    var ctx = chart.ctx;
    ctx.save();
    ctx.fillStyle = '#E8E8E8';
    ctx.font = '10px ' + FONTE;
    ctx.textBaseline = 'middle';
    ctx.fillText('MACD(12,26,9) -3.896 -5.484 1.589 0.000', 5, 11, 176);
    ctx.restore();
  },
  afterDraw: function (chart) {
    var ctx = chart.ctx;
    var dy = -622;
    function poli(pts, cor) {
      ctx.fillStyle = cor;
      ctx.beginPath();
      pts.forEach(function (p, i) { if (i) ctx.lineTo(p[0], p[1] + dy); else ctx.moveTo(p[0], p[1] + dy); });
      ctx.closePath();
      ctx.fill();
    }
    ctx.save();
    ctx.fillStyle = '#777';
    ctx.fillRect(0, 2, 1, 112);
    poli([[0, 731], [0, 736], [6, 736]], '#8A8F96');
    // logotipo
    poli([[1508, 727], [1508, 704], [1485, 727]], '#E4E4E4');
    poli([[1508, 727], [1508, 704], [1531, 727]], '#8F8F8F');
    poli([[1508, 727], [1508, 750], [1485, 727]], '#D8B428');
    poli([[1508, 727], [1508, 750], [1531, 727]], '#6E5A22');
    poli([[1494, 727], [1508, 713], [1522, 727], [1508, 741]], '#14140C');
    ctx.strokeStyle = '#9DB82E';
    ctx.lineWidth = 2;
    ctx.beginPath();
    ctx.moveTo(1501, 727 + dy); ctx.lineTo(1508, 720 + dy); ctx.lineTo(1515, 727 + dy); ctx.lineTo(1508, 734 + dy);
    ctx.closePath(); ctx.stroke();
    ctx.textBaseline = 'middle';
    ctx.fillStyle = '#F2F2F2';
    ctx.font = 'bold 17px ' + FONTE;
    ctx.fillText('SiNO SOUND', 1542, 717 + dy, 103);
    ctx.fillStyle = '#8C8C8C';
    ctx.font = '16px "Noto Sans CJK TC"';
    ctx.fillText('漢', 1541, 735 + dy);
    ctx.fillText('聲', 1563, 735 + dy);
    ctx.fillText('集', 1601, 735 + dy);
    ctx.fillText('團', 1630, 735 + dy);
    ctx.restore();
  }
};

function eixoDias(bordaAltura, bordaCor) {
  return {
    type: 'linear', axis: 'x', position: 'top', min: xMin, max: xMax, offset: false,
    afterBuildTicks: function (s) { s.ticks = dayBars.map(function (v) { return { value: v }; }); },
    afterFit: function (s) { s.height = bordaAltura; semPadding(s); },
    ticks: { display: false },
    grid: { color: '#fff', lineWidth: 1, drawTicks: false, offset: false },
    border: { display: !!bordaCor, color: bordaCor || '#fff', dash: [3, 3] }
  };
}

var corpos = highs.map(function (h, i) { return { x: i, y: [opens[i], closes[i]] }; });
var pavios = highs.map(function (h, i) { return { x: i, y: [lows[i], h] }; });
var corPavio = opens.map(function (o, i) { return closes[i] >= o ? LARANJA : VERDE; });
var corFundo = opens.map(function (o, i) { return closes[i] >= o ? LARANJA : '#000'; });
var corBorda = opens.map(function (o, i) { return closes[i] >= o ? LARANJA : VERDE; });

new Chart(document.getElementById('precos'), {
  type: 'bar',
  plugins: [pixelInteiro, extrasPreco],
  data: {
    datasets: [
      { data: pavios, backgroundColor: corPavio, barThickness: 1, grouped: false, inflateAmount: 0, order: 6 },
      { data: corpos, backgroundColor: corFundo, borderColor: corBorda, borderWidth: 1, borderSkipped: false, barThickness: 3, grouped: false, inflateAmount: 0, order: 5 },
      linha(pares(upperBars, upperVals), BANDA),
      linha(pares(middleBars, middleVals), BANDA),
      linha(pares(lowerBars, lowerVals), BANDA),
      linha(supportLine.map(function (p) { return { x: p[0], y: p[1] }; }), AMARELO, {
        order: 2, pointRadius: 3.2, pointStyle: 'rect', pointBackgroundColor: '#fff', pointBorderColor: AMARELO, pointBorderWidth: 1
      }),
      linha(resistLine.map(function (p) { return { x: p[0], y: p[1] }; }), AMARELO, { order: 2 })
    ]
  },
  options: {
    responsive: false,
    devicePixelRatio: 1,
    layout: { padding: 0, autoPadding: false },
    plugins: { legend: { display: false }, tooltip: { enabled: false } },
    scales: {
      x: {
        type: 'linear', min: xMin, max: xMax, offset: false,
        afterFit: function (s) { s.height = 1; semPadding(s); },
        ticks: { display: false },
        grid: { display: false, offset: false },
        border: { color: '#fff' }
      },
      x2: eixoDias(0, null),
      y: {
        type: 'linear', position: 'right', min: 1735.04, max: 1836.13, beginAtZero: false,
        afterBuildTicks: function (s) { s.ticks = priceTicks.map(function (v) { return { value: v }; }); },
        afterFit: function (s) { s.width = 40; semPadding(s); },
        ticks: {
          autoSkip: false, padding: 2, color: '#fff',
          callback: function (v) { return Number(v).toFixed(2); }
        },
        grid: { drawOnChartArea: false, tickLength: 4, color: '#fff' },
        border: { color: '#fff' }
      }
    }
  }
});

new Chart(document.getElementById('macd'), {
  type: 'bar',
  plugins: [pixelInteiro, extrasMacd],
  data: {
    datasets: [
      {
        data: macdHist.map(function (v, i) { return { x: i, y: v }; }),
        backgroundColor: macdHist.map(function (v) { return v > 0 ? '#0C8A0C' : '#FF0000'; }),
        barThickness: 1, grouped: false, inflateAmount: 0, order: 6
      },
      linha(pares(macdSignalBars, macdSignalVals), '#FF0000', { borderDash: [3, 3], order: 4 }),
      linha(pares(macdMainBars, macdMainVals), '#00FFFF', { order: 3 })
    ]
  },
  options: {
    responsive: false,
    devicePixelRatio: 1,
    layout: { padding: 0, autoPadding: false },
    plugins: { legend: { display: false }, tooltip: { enabled: false } },
    scales: {
      x: {
        type: 'linear', min: xMin, max: xMax, offset: false,
        afterBuildTicks: function (s) { s.ticks = labelBars.map(function (v) { return { value: v }; }); },
        afterFit: function (s) { s.height = 18; semPadding(s); },
        ticks: {
          autoSkip: false, align: 'start', maxRotation: 0, minRotation: 0, padding: 1, color: '#fff',
          callback: function (v) { return timeLabels[labelBars.indexOf(v)]; }
        },
        grid: { drawOnChartArea: false, tickLength: 3, color: '#fff', offset: false },
        border: { color: '#fff' }
      },
      x2: eixoDias(2, '#fff'),
      y: {
        type: 'linear', position: 'right', min: -11.888, max: 5.608, beginAtZero: false,
        afterBuildTicks: function (s) { s.ticks = macdTickAt.map(function (v) { return { value: v }; }); },
        afterFit: function (s) { s.width = 40; semPadding(s); },
        ticks: {
          autoSkip: false, padding: 2, color: '#fff',
          callback: function (v) { return macdTickText[macdTickAt.indexOf(v)]; }
        },
        grid: { drawOnChartArea: false, tickLength: 4, color: '#fff' },
        border: { color: '#fff' }
      }
    }
  }
});
</script>
</body>
</html>
